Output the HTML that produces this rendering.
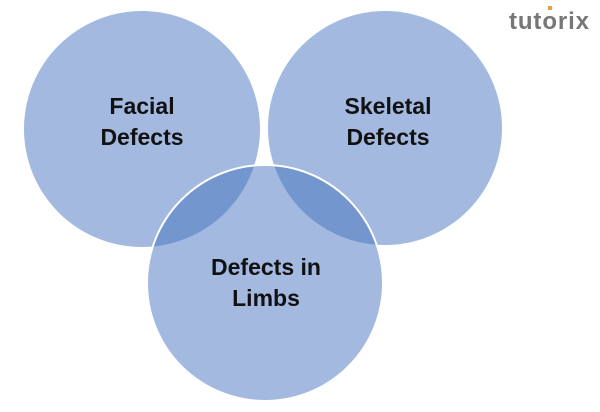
<!DOCTYPE html>
<html><head><style>body{margin:0;background:#fff}svg{display:block}</style></head><body>
<svg width="600" height="412" viewBox="0 0 600 412">
<defs>
<clipPath id="cl"><circle cx="142" cy="129" r="118"/></clipPath>
<clipPath id="cr"><circle cx="385" cy="128" r="117"/></clipPath>
</defs>
<circle cx="142" cy="129" r="118" fill="#a3b9e0"/>
<circle cx="385" cy="128" r="117" fill="#a3b9e0"/>
<circle cx="265" cy="283" r="118" fill="#a3b9e0"/>
<circle cx="265" cy="283" r="118" fill="#7496cf" clip-path="url(#cl)"/>
<circle cx="265" cy="283" r="118" fill="#7496cf" clip-path="url(#cr)"/>
<circle cx="265" cy="283" r="118" fill="none" stroke="#fff" stroke-width="2"/>
<circle cx="142" cy="129" r="118" fill="none" stroke="#fff" stroke-width="1.5" clip-path="url(#cr)"/>
<g font-family="Liberation Sans, sans-serif" font-weight="bold" font-size="23" fill="#111" text-anchor="middle">
<text x="142" y="114">Facial</text><text x="142" y="145">Defects</text>
<text x="388" y="114">Skeletal</text><text x="388" y="145">Defects</text>
<text x="266" y="275">Defects in</text><text x="266" y="306">Limbs</text>
</g>
<text x="509" y="29" font-family="Liberation Sans, sans-serif" font-weight="bold" font-size="24" fill="#777" textLength="80">tutorix</text>
<rect x="548" y="6" width="4" height="4" fill="#f0a030"/>
</svg>
</body></html>
